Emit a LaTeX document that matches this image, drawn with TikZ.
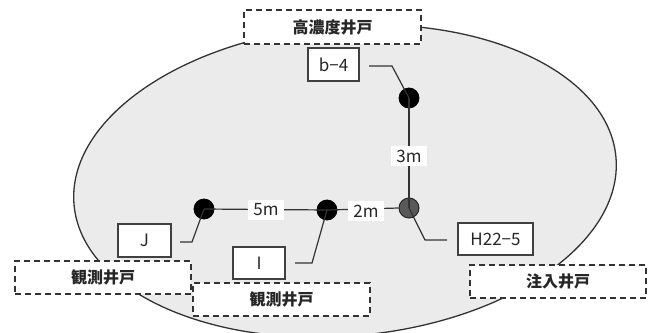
\documentclass[tikz,border=0pt]{standalone}
\usepackage{fontspec}
\setmainfont{Noto Sans CJK JP}
\begin{document}
\begin{tikzpicture}[x=1pt,y=-1pt,
  txt/.style={font=\fontsize{16}{18}\selectfont\bfseries, text=black!85},
  lat/.style={font=\fontsize{17}{19}\selectfont, text=black!85},
  dashbox/.style={txt, draw=black!80, line width=1.3pt, dash pattern=on 6pt off 4pt, fill=white, inner sep=0pt},
  solidbox/.style={lat, draw=black!75, line width=1.3pt, fill=white, inner sep=0pt},
  dist/.style={lat, fill=white, inner xsep=5pt, inner ysep=4pt},
  well/.style={circle, fill=black, draw=black, line width=0.8pt, minimum size=20pt, inner sep=0pt},
  gwell/.style={circle, fill=black!65, draw=black!85, line width=1pt, minimum size=20pt, inner sep=0pt},
  wire/.style={draw=black!80, line width=1.2pt}]
\useasboundingbox (0,0) rectangle (653,332);
% region ellipse
\coordinate (E) at (345,181);
\draw[fill=black!8, draw=black!80, line width=1.3pt, rotate around={5:(E)}] (E) ellipse (272pt and 155pt);
% wells
\node[well] (bdot) at (409,98) {};
\node[gwell] (hdot) at (409,208) {};
\node[well] (jdot) at (204,209) {};
\node[well] (idot) at (327,210) {};
% distances
\draw[wire] (bdot.center) -- (hdot.center);
\draw[wire] (jdot.center) -- (idot.center);
\draw[wire] (idot.center) -- (hdot.west);
\node[dist] (d5) at (266,210) {5m};
\node[dist] (d2) at (366,211) {2m};
\node[dist] (d3) at (409,156) {3m};
% dashed category boxes
\node[dashbox, minimum width=177pt, minimum height=34pt] (high) at (332.5,27) {高濃度井戸};
\node[dashbox, minimum width=176pt, minimum height=33pt] (obsL) at (103,277.5) {観測井戸};
\node[dashbox, minimum width=177pt, minimum height=33pt] (obsM) at (281.5,299.5) {観測井戸};
\node[dashbox, minimum width=176pt, minimum height=33pt] (inj) at (558,281.5) {注入井戸};
% well name boxes
\node[solidbox, minimum width=51pt, minimum height=33pt] (b4) at (333.5,64.5) {b−4};
\node[solidbox, minimum width=53pt, minimum height=33pt] (J) at (144.5,240.5) {J};
\node[solidbox, minimum width=52pt, minimum height=32pt] (I) at (259,263) {I};
\node[solidbox, minimum width=75pt, minimum height=32pt] (H) at (495.5,239) {H22−5};
% leaders
\coordinate (lb1) at (369,66); \coordinate (lb2) at (392,66);
\coordinate (lj1) at (180,242); \coordinate (lj2) at (192,242);
\coordinate (li1) at (295,263); \coordinate (li2) at (312,263);
\coordinate (lh1) at (425,240); \coordinate (lh2) at (447,240);
\draw[wire] (lb1) -- (lb2) -- (bdot.center);
\draw[wire] (lj1) -- (lj2) -- (jdot.center);
\draw[wire] (li1) -- (li2) -- (idot.center);
\draw[wire] (hdot.center) -- (lh1) -- (lh2);
\end{tikzpicture}
\end{document}
